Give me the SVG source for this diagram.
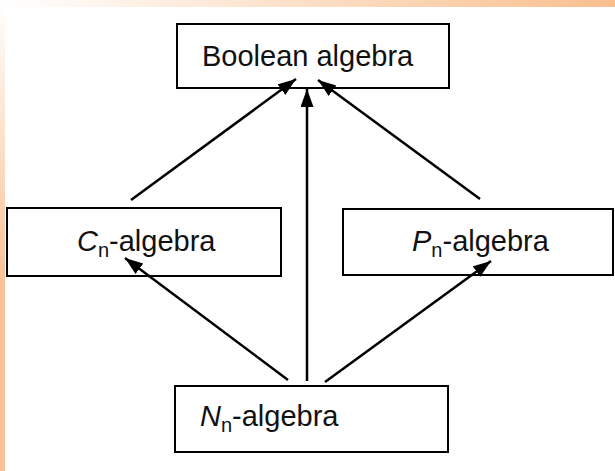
<svg xmlns="http://www.w3.org/2000/svg" width="615" height="471" viewBox="0 0 615 471">
<defs>
<linearGradient id="gTop" x1="0" y1="0" x2="1" y2="0">
<stop offset="0" stop-color="#ffffff"/>
<stop offset="1" stop-color="#f9bf8e"/>
</linearGradient>
<linearGradient id="gLeft" x1="0" y1="0" x2="0" y2="1">
<stop offset="0" stop-color="#ffffff"/>
<stop offset="0.6" stop-color="#f9c195"/>
<stop offset="1" stop-color="#f9c39a"/>
</linearGradient>
<marker id="ah" markerUnits="userSpaceOnUse" markerWidth="20" markerHeight="14" refX="18" refY="6.5" orient="auto">
<path d="M0,0 L18,6.5 L0,13 z" fill="#000"/>
</marker>
<style>
.box{fill:#fff;stroke:#000;stroke-width:2}
.lbl{font-family:"Liberation Sans",Arial,sans-serif;font-size:29px;fill:#111}
.sub{font-size:20px}
.it{font-style:italic}
.edge{stroke:#000;stroke-width:2.5;fill:none;marker-end:url(#ah)}
</style>
</defs>
<rect x="0" y="0" width="615" height="471" fill="#fff"/>
<rect x="0" y="0" width="615" height="7" fill="url(#gTop)"/>
<rect x="0" y="0" width="5" height="471" fill="url(#gLeft)"/>
<g id="boolean">
<rect class="box" x="177" y="24" width="272" height="64"/>
<text class="lbl" x="202" y="66">Boolean algebra</text>
</g>
<g id="cn">
<rect class="box" x="7" y="208" width="274" height="68"/>
<text class="lbl" x="77" y="251"><tspan class="it">C</tspan><tspan class="sub" dy="6">n</tspan><tspan dy="-6">-algebra</tspan></text>
</g>
<g id="pn">
<rect class="box" x="343" y="209" width="270" height="66"/>
<text class="lbl" x="412" y="251"><tspan class="it">P</tspan><tspan class="sub" dy="6">n</tspan><tspan dy="-6">-algebra</tspan></text>
</g>
<g id="nn">
<rect class="box" x="175" y="386" width="273" height="66"/>
<text class="lbl" x="200" y="426"><tspan class="it">N</tspan><tspan class="sub" dy="6">n</tspan><tspan dy="-6">-algebra</tspan></text>
</g>
<g id="connectors">
<path class="edge" d="M131,200 L296,79"/>
<path class="edge" d="M307,381 L307,89"/>
<path class="edge" d="M480,199 L318,80"/>
<path class="edge" d="M288,380 L125,258"/>
<path class="edge" d="M325,382 L491,261"/>
</g>
</svg>
